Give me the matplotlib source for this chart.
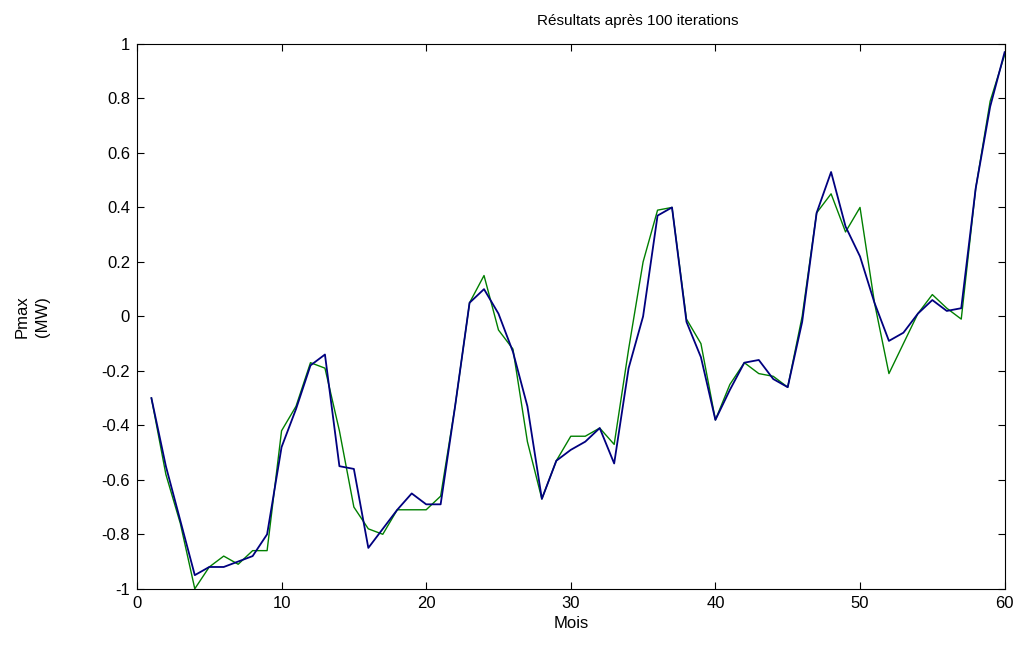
import matplotlib
matplotlib.use('Agg')
import matplotlib.pyplot as plt

mois = list(range(1, 61))

# courbe verte (reelle)
p_reel = [-0.30, -0.58, -0.76, -1.00, -0.92, -0.88, -0.91, -0.86, -0.86, -0.42,
          -0.33, -0.17, -0.19, -0.42, -0.70, -0.78, -0.80, -0.71, -0.71, -0.71,
          -0.66, -0.33, 0.05, 0.15, -0.05, -0.12, -0.46, -0.67, -0.53, -0.44,
          -0.44, -0.41, -0.47, -0.12, 0.20, 0.39, 0.40, -0.01, -0.10, -0.38,
          -0.25, -0.17, -0.21, -0.22, -0.26, 0.00, 0.38, 0.45, 0.31, 0.40,
          0.05, -0.21, -0.10, 0.01, 0.08, 0.03, -0.01, 0.47, 0.79, 0.96]

# courbe bleue (estimee)
p_estime = [-0.30, -0.55, -0.75, -0.95, -0.92, -0.92, -0.90, -0.88, -0.80, -0.48,
            -0.34, -0.18, -0.14, -0.55, -0.56, -0.85, -0.78, -0.71, -0.65, -0.69,
            -0.69, -0.33, 0.05, 0.10, 0.01, -0.13, -0.33, -0.67, -0.53, -0.49,
            -0.46, -0.41, -0.54, -0.19, 0.00, 0.37, 0.40, -0.02, -0.15, -0.38,
            -0.27, -0.17, -0.16, -0.23, -0.26, -0.02, 0.38, 0.53, 0.33, 0.22,
            0.05, -0.09, -0.06, 0.01, 0.06, 0.02, 0.03, 0.47, 0.77, 0.97]

plt.rcParams['font.family'] = ['Liberation Sans', 'DejaVu Sans']

fig = plt.figure(figsize=(10.22, 6.47), dpi=100)
ax = fig.add_axes([0.134, 0.090, 0.849, 0.842])
ax.plot(mois, p_reel, color='#007f00', linewidth=1.0)
ax.plot(mois, p_estime, color='#00007f', linewidth=1.3)
ax.set_xlim(0, 60)
ax.set_ylim(-1, 1)
ax.set_xticks(range(0, 61, 10))
ax.set_yticks([-1, -0.8, -0.6, -0.4, -0.2, 0, 0.2, 0.4, 0.6, 0.8, 1])
ax.set_yticklabels(['-1', '-0.8', '-0.6', '-0.4', '-0.2', '0', '0.2', '0.4', '0.6', '0.8', '1'])
ax.tick_params(direction='in', top=True, right=True, length=5, labelsize=12, pad=5)

# titre decale vers la droite comme dans l'original
fig.text(0.624, 0.968, 'Résultats après 100 iterations', fontsize=11,
         ha='center', va='center')
ax.set_xlabel('Mois', fontsize=12, labelpad=4)
ax.set_ylabel('Pmax\n(MW)', fontsize=12, linespacing=1.5)
ax.yaxis.set_label_coords(-0.100, 0.5)
fig.savefig('out.png', dpi=100)
